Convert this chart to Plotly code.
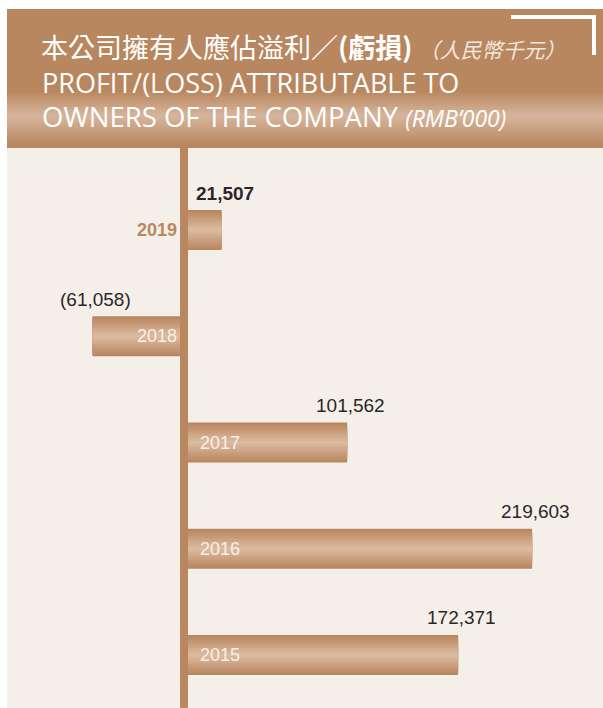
import plotly.graph_objects as go

# ---- data ----
years = ["2019", "2018", "2017", "2016", "2015"]
values = [21507, -61058, 101562, 219603, 172371]
value_labels = ["21,507", "(61,058)", "101,562", "219,603", "172,371"]

title_zh = "本公司擁有人應佔溢利／"
title_zh_bold = "(虧損)"
title_zh_unit = "（人民幣千元）"
title_en_1 = "PROFIT/(LOSS) ATTRIBUTABLE TO"
title_en_2 = "OWNERS OF THE COMPANY"
title_en_unit = "(RMB’000)"

# ---- styling ----
W, H = 603, 708
TOP = 148
LEFT = 7
HEAD_TOP = 9
BROWN = (185, 135, 95)
LIGHT = (219, 187, 160)
BG = "#f5efea"


def mix(a, b, t):
    return "rgb(%d,%d,%d)" % tuple(round(a[i] + (b[i] - a[i]) * t) for i in range(3))


def py(p):  # pixel y -> paper y
    return (H - p) / (H - TOP)


def px(p):  # pixel x -> paper x
    return p / W


fig = go.Figure()

# nested bars to fake vertical gradient
BAR_W = 0.376
n_layers = 9
for k in range(n_layers):
    t = k / (n_layers - 1)
    fig.add_trace(go.Bar(
        y=years, x=values, orientation="h",
        width=BAR_W * (1 - t * 0.92),
        marker=dict(color=mix(BROWN, LIGHT, t), line=dict(width=0)),
        hoverinfo="skip", showlegend=False,
    ))

shapes = []
# chart area background
shapes.append(dict(type="rect", xref="paper", yref="paper", x0=px(LEFT), x1=1.0,
                   y0=0, y1=py(TOP), fillcolor=BG, line=dict(width=0), layer="below"))
# header band
shapes.append(dict(type="rect", xref="paper", yref="paper", x0=px(LEFT), x1=1.0,
                   y0=py(TOP), y1=py(HEAD_TOP), fillcolor=mix(BROWN, BROWN, 0), line=dict(width=0), layer="below"))
# header light stripe gradient
g_top, g_mid, g_bot = 90, 115, 144
step = 2
p = g_top
while p < g_bot:
    if p < g_mid:
        t = (p - g_top) / (g_mid - g_top)
    else:
        t = (g_bot - p) / (g_bot - g_mid)
    shapes.append(dict(type="rect", xref="paper", yref="paper", x0=px(LEFT), x1=1.0,
                       y0=py(p + step), y1=py(p), fillcolor=mix(BROWN, (214, 181, 156), t),
                       line=dict(width=0), layer="below"))
    p += step
# white corner bracket
shapes.append(dict(type="path", xref="paper", yref="paper",
                   path="M %f %f L %f %f L %f %f" % (px(511), py(17), px(594), py(17), px(594), py(55)),
                   line=dict(color="white", width=4)))
# vertical axis line
shapes.append(dict(type="rect", xref="x", yref="paper", xsizemode="pixel", xanchor=0,
                   x0=-8, x1=0, y0=0, y1=1, fillcolor="#b9875f", line=dict(width=0), layer="above"))

annotations = []
# title lines
annotations.append(dict(xref="paper", yref="paper", x=px(39), y=py(47), xanchor="left", yanchor="middle",
                        showarrow=False,
                        text=title_zh + "<b>" + title_zh_bold + "</b> <span style='font-size:21px;color:#f3e6da'><i>"
                        + title_zh_unit + "</i></span>",
                        font=dict(family="Noto Sans CJK TC", size=27, color="white")))
annotations.append(dict(xref="paper", yref="paper", x=px(40), y=py(83), xanchor="left", yanchor="middle",
                        showarrow=False, text=title_en_1,
                        font=dict(family="Open Sans", size=27, color="white")))
annotations.append(dict(xref="paper", yref="paper", x=px(40), y=py(117), xanchor="left", yanchor="middle",
                        showarrow=False,
                        text=title_en_2 + " <span style='font-size:23px'><i>" + title_en_unit + "</i></span>",
                        font=dict(family="Open Sans", size=27.5, color="white")))

# value labels (category axis positions by index)
for i, (yr, v, lab) in enumerate(zip(years, values, value_labels)):
    bold = yr == "2019"
    annotations.append(dict(xref="x", yref="y", x=v, y=i, yshift=37, xshift=3, xanchor="center", yanchor="middle",
                            showarrow=False, text=("<b>%s</b>" % lab) if bold else lab,
                            font=dict(family="Liberation Sans", size=19, color="#2b2728")))

# year labels
for i, (yr, v) in enumerate(zip(years, values)):
    if yr == "2019":
        annotations.append(dict(xref="x", yref="y", x=0, y=i, xshift=-9, xanchor="right", yanchor="middle",
                                showarrow=False, text="<b>%s</b>" % yr,
                                font=dict(family="Liberation Sans", size=18, color="#b9875f")))
    elif v < 0:
        annotations.append(dict(xref="x", yref="y", x=0, y=i, xshift=-9, xanchor="right", yanchor="middle",
                                showarrow=False, text=yr,
                                font=dict(family="Liberation Sans", size=18, color="#f8efe7")))
    else:
        annotations.append(dict(xref="x", yref="y", x=0, y=i, xshift=10, xanchor="left", yanchor="middle",
                                showarrow=False, text=yr,
                                font=dict(family="Liberation Sans", size=18, color="#f8efe7")))

scale = 0.001567  # px per unit
ZERO = 188
fig.update_layout(
    width=W, height=H,
    margin=dict(l=0, r=0, t=TOP, b=0, pad=0),
    paper_bgcolor="white", plot_bgcolor="rgba(0,0,0,0)",
    barmode="overlay",
    showlegend=False,
    xaxis=dict(range=[-ZERO / scale, (W - ZERO) / scale], visible=False, fixedrange=True),
    yaxis=dict(type="category", categoryorder="array", categoryarray=years,
               range=[4.499, -0.772], visible=False, fixedrange=True),
    shapes=shapes,
    annotations=annotations,
)

fig.write_html("out.html",
               config={"displayModeBar": False, "staticPlot": True},
               post_script="document.body.style.margin='0';document.body.style.overflow='hidden';")
